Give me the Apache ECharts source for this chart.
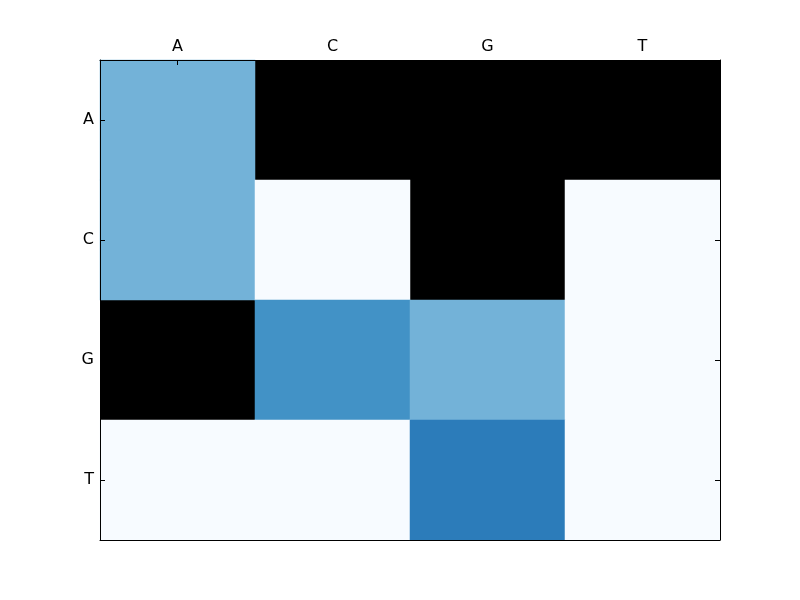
<!DOCTYPE html>
<html>
<head>
<meta charset="utf-8">
<script src="https://cdn.jsdelivr.net/npm/echarts@6/dist/echarts.min.js"></script>
<style>html,body{margin:0;padding:0;background:#fff}#c{width:800px;height:600px}</style>
</head>
<body>
<div id="c"></div>
<script>
// Categories
var colLabels = ['A', 'C', 'G', 'T'];
var rowLabels = ['A', 'C', 'G', 'T'];
// Matrix values per row (null = masked cell, shown black)
var rowA = [0.48, null, null, null];
var rowC = [0.48, 0.0, null, 0.0];
var rowG = [null, 0.625, 0.48, 0.0];
var rowT = [0.0, 0.0, 0.71, 0.0];
var rows = [rowA, rowC, rowG, rowT];
// matplotlib "Blues" colormap stops
var blues = ['#f7fbff', '#deebf7', '#c6dbef', '#9ecae1', '#6baed6', '#4292c6', '#2171b5', '#08519c', '#08306b'];

var data = [];
rows.forEach(function (r, ri) {
  r.forEach(function (v, ci) {
    data.push([ci, ri, v === null ? '-' : v]);
  });
});

var font = 'DejaVu Sans';
var tick = {show: true, inside: true, length: 5, alignWithLabel: true, lineStyle: {color: '#000', width: 1}};
var line = {show: true, lineStyle: {color: '#000', width: 1}};

var chart = echarts.init(document.getElementById('c'), null, {renderer: 'canvas'});
chart.setOption({
  animation: false,
  backgroundColor: '#fff',
  grid: {left: 100, top: 60, width: 620, height: 480, show: true, backgroundColor: '#000', borderWidth: 0},
  xAxis: [
    {type: 'category', data: colLabels, position: 'top', z: 10,
     axisLine: line, axisTick: tick, splitLine: {show: false},
     axisLabel: {color: '#000', fontFamily: font, fontSize: 16, margin: 5}},
    {type: 'category', data: colLabels, position: 'bottom', z: 10,
     axisLine: line, axisTick: {show: false}, axisLabel: {show: false}, splitLine: {show: false}}
  ],
  yAxis: [
    {type: 'category', data: rowLabels, inverse: true, position: 'left', z: 10,
     axisLine: line, axisTick: tick, splitLine: {show: false},
     axisLabel: {color: '#000', fontFamily: font, fontSize: 16, margin: 6}},
    {type: 'category', data: rowLabels, inverse: true, position: 'right', z: 10,
     axisLine: line, axisTick: tick, axisLabel: {show: false}, splitLine: {show: false}}
  ],
  visualMap: {show: false, type: 'continuous', min: 0, max: 1, dimension: 2, inRange: {color: blues}},
  series: [{type: 'heatmap', data: data, xAxisIndex: 0, yAxisIndex: 0, z: 2,
            itemStyle: {borderWidth: 0}, emphasis: {disabled: true}}]
});
</script>
</body>
</html>
